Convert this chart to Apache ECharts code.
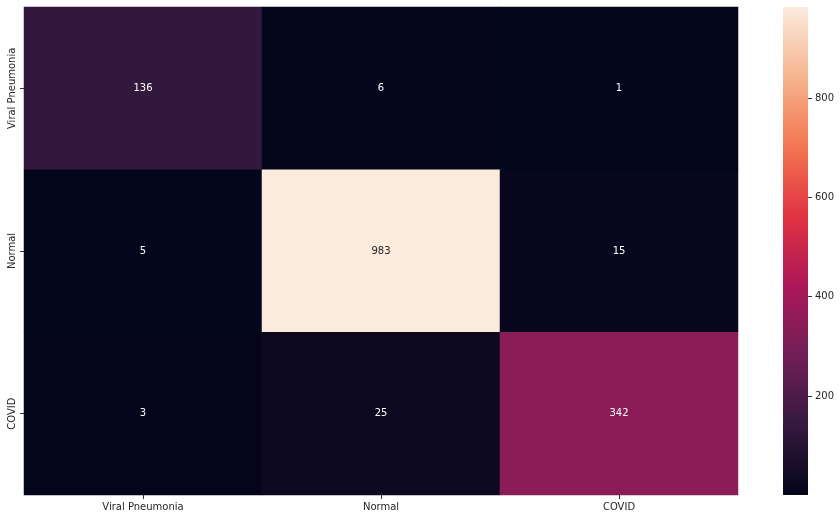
<!DOCTYPE html>
<html lang="en">
<head>
<meta charset="UTF-8">
<title>Confusion matrix heatmap</title>
<script src="https://cdnjs.cloudflare.com/ajax/libs/echarts/6.0.0/echarts.min.js"></script>
<style>
    body { margin: 0; background: #ffffff; }
    #Chart1 { width: 840px; height: 520px; }
</style>
</head>
<body>
<div id="Chart1"></div>
<script>
// data
var xLabels = ['Viral Pneumonia', 'Normal', 'COVID'];
var yLabels = ['Viral Pneumonia', 'Normal', 'COVID'];   // top to bottom
var matrix = [
    [136, 6, 1],
    [5, 983, 15],
    [3, 25, 342]
];
var colorbarTicks = [200, 400, 600, 800];
var vMin = 1;
var vMax = 983;

// rocket colormap stops (seaborn)
var rocket = ['#03051a', '#35193e', '#701f57', '#ad1759', '#e13342', '#f37651', '#f6b48f', '#faebdd'];

var fontFam = '"DejaVu Sans", sans-serif';

var data = [];
for (var r = 0; r < matrix.length; r++) {
    for (var c = 0; c < matrix[r].length; c++) {
        var v = matrix[r][c];
        data.push({
            value: [c, r, v],
            label: { color: v > 700 ? '#262626' : '#ffffff' }
        });
    }
}

var gradStops = rocket.map(function (col, i) {
    return { offset: 1 - i / (rocket.length - 1), color: col };
});

var myChart1 = echarts.init(document.getElementById('Chart1'));
var option = {
    backgroundColor: '#ffffff',
    animation: false,
    grid: [
        { left: 24, top: 7, width: 714, height: 488 },
        { left: 783, top: 7, width: 25, height: 488 }
    ],
    xAxis: [
        {
            type: 'category', gridIndex: 0, data: xLabels,
            axisLine: { show: false },
            axisTick: { show: true, alignWithLabel: true, length: 4, lineStyle: { color: '#333' } },
            axisLabel: { color: '#262626', fontSize: 10, fontFamily: fontFam, margin: 7 },
            splitLine: { show: false }
        },
        {
            type: 'category', gridIndex: 1, data: [''],
            axisLine: { show: false }, axisTick: { show: false }, axisLabel: { show: false }
        }
    ],
    yAxis: [
        {
            type: 'category', gridIndex: 0, data: yLabels, inverse: true,
            axisLine: { show: false },
            axisTick: { show: true, alignWithLabel: true, length: 4, lineStyle: { color: '#333' } },
            axisLabel: { color: '#262626', fontSize: 10, fontFamily: fontFam, rotate: 90, margin: 7 },
            splitLine: { show: false }
        },
        {
            type: 'value', gridIndex: 1, min: vMin, max: vMax, position: 'right',
            axisLine: { show: false },
            splitLine: { show: false },
            axisTick: { show: true, length: 4, customValues: colorbarTicks, lineStyle: { color: '#333' } },
            axisLabel: { color: '#262626', fontSize: 10, fontFamily: fontFam, margin: 7, customValues: colorbarTicks }
        }
    ],
    visualMap: {
        show: false,
        type: 'continuous',
        min: vMin,
        max: vMax,
        seriesIndex: 0,
        inRange: { color: rocket }
    },
    series: [
        {
            type: 'heatmap',
            xAxisIndex: 0, yAxisIndex: 0,
            data: data,
            label: { show: true, fontSize: 10, fontFamily: fontFam },
            itemStyle: { borderWidth: 0 },
            emphasis: { disabled: true }
        },
        {
            type: 'bar',
            xAxisIndex: 1, yAxisIndex: 1,
            data: [vMax],
            barWidth: '100%',
            silent: true,
            itemStyle: { color: new echarts.graphic.LinearGradient(0, 0, 0, 1, gradStops) }
        }
    ]
};
myChart1.setOption(option);
</script>
</body>
</html>
